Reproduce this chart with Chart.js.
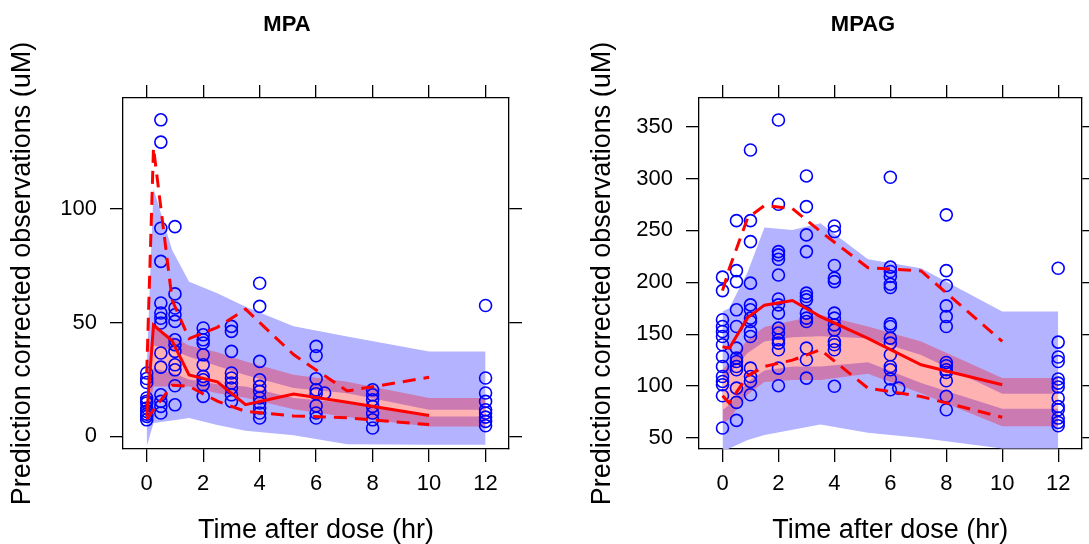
<!DOCTYPE html>
<html>
<head>
<meta charset="utf-8">
<script src="https://cdn.jsdelivr.net/npm/chart.js@4.4.1/dist/chart.umd.min.js"></script>
<style>
  html, body { margin: 0; padding: 0; background: #fff; }
  #wrap { position: relative; width: 1089px; height: 544px; overflow: hidden; background: #fff; }
  canvas { position: absolute; top: 0; }
</style>
</head>
<body>
<div id="wrap">
  <canvas id="mpa" width="580" height="544" style="left:0px"></canvas>
  <canvas id="mpag" width="509" height="544" style="left:580px"></canvas>
</div>
<script>
// ---- tick values ----
const timeTicks = [0, 2, 4, 6, 8, 10, 12];
const mpaTicks = [0, 50, 100];
const mpagTicks = [50, 100, 150, 200, 250, 300, 350];

// ---- MPA observations (prediction corrected, uM) ----
const mpaObsTime = [
  0,0,0,0,0,0,0,0,0,0,0,
  0.5,0.5,0.5,0.5,0.5,0.5,0.5,0.5,0.5,0.5,0.5,0.5,0.5,0.5,
  1,1,1,1,1,1,1,1,1,1,1,1,
  2,2,2,2,2,2,2,2,2,2,
  3,3,3,3,3,3,3,3,3,
  4,4,4,4,4,4,4,4,4,4,4,
  6,6,6,6,6,6,6,6,6.3,
  8,8,8,8,8,8,8,
  12,12,12,12,12,12,12,12,12
];
const mpaObsConc = [
  27.9,25.5,23.7,16.9,15.5,14.7,12.5,11,9.8,8.8,7.3,
  139.3,129.5,91.6,77,58.7,54.3,52,49.9,36.7,30.5,18.3,15.4,13.2,10.3,
  92.3,62.7,56.5,53.5,50.6,42.5,40.3,37.4,31.5,29.3,22.3,13.9,
  47.7,44.7,42.5,41.1,35.9,31.5,26.4,24.9,22.7,17.6,
  48.4,46.2,37.4,27.9,25.7,23.5,21.3,18.3,15.4,
  67.4,57.2,33,24.9,22,19.8,16.9,14.7,12.5,10.3,8.1,
  39.6,35.5,25.4,20.5,18.8,13.5,10.3,8.1,19.1,
  20.5,18.3,16.1,13.2,10.3,7.3,3.7,
  57.6,25.7,19.1,15.4,11.7,10.3,8.5,6.6,4.7
];

// ---- MPAG observations (prediction corrected, uM) ----
const mpagObsTime = [
  0,0,0,0,0,0,0,0,0,0,0,0,0,0,
  0.5,0.5,0.5,0.5,0.5,0.5,0.5,0.5,0.5,0.5,0.5,0.5,0.5,
  1,1,1,1,1,1,1,1,1,1,1,1,1,1,
  2,2,2,2,2,2,2,2,2,2,2,2,2,2,2,2,
  3,3,3,3,3,3,3,3,3,3,3,3,3,
  4,4,4,4,4,4,4,4,4,4,4,4,4,
  6,6,6,6,6,6,6,6,6,6,6,6,6,6,6,6.3,
  8,8,8,8,8,8,8,8,8,8,8,8,8,
  12,12,12,12,12,12,12,12,12,12,12,12,12
];
const mpagObsConc = [
  205,192,163.9,157.4,152.6,147.8,139.8,128.5,118.9,109.3,104.5,101.3,90.7,59.6,
  259.4,211.3,200.7,173.5,157.4,136.6,127,123.7,118.9,115.7,98.1,84.3,67,
  327.5,259.4,239.2,199.2,178.3,173.5,165.5,162.3,152.6,147.8,117.3,109.3,104.5,91.7,
  356.4,275.2,229.6,226.4,222.2,207,183.9,178.3,170.3,155.9,151.1,144.6,141.4,135,117.3,100.4,
  302.5,272.9,245.7,229.6,189.6,186.3,183.1,170.3,165.5,162.3,136.6,125.4,107.7,
  254.3,248.9,216.2,204,200.7,170.3,165.5,159,154.2,143,139.8,135,99.8,
  301.2,214.6,210.4,205.6,198.2,195,160,157.4,146.2,141.4,130.2,118.9,115.7,106.8,96.5,98.1,
  265,211.3,196.9,177.3,167,157.4,122.8,119.6,115.7,113.1,105.2,90.1,77.2,
  213.6,142.4,128,123.7,106.8,102.9,99.1,88.5,80.4,77.2,69.2,65,61.8
];

// ---- time bins (bin centres) ----
const binTime = [0, 0.24, 0.9, 1.5, 2.5, 3.5, 5.2, 7.1, 10];
const bandTime = [0, 0.24, 0.9, 1.5, 2.5, 3.5, 5.2, 7.1, 10, 12];

// ---- MPA observed percentiles ----
const mpaObsMedian = [8.8, 49, 42, 27, 24, 14, 18.6, 15, 9.2];
const mpaObsP95 = [28, 127, 60, 43, 48, 56, 36, 20, 26];
const mpaObsP05 = [7.5, 11.7, 22.5, 22, 15.5, 11, 9, 8.2, 5.2];

// ---- MPA simulated confidence bands ----
const mpaOuterHi = [30, 109, 82, 68, 63, 57, 48.5, 44, 37.4, 37.4];
const mpaOuterLo = [-4.4, 5.9, 7, 8.1, 5, 2.5, 0.5, -3.5, -3.7, -3.7];
const mpaMedCiHi = [12, 48, 44, 40, 37, 33, 27.1, 24, 16.9, 16.9];
const mpaMidHi = [10, 40, 38, 35, 31, 27, 21.3, 19, 11.7, 11.7];
const mpaMidLo = [8, 30, 28, 25, 23, 22, 16.9, 14.7, 8.8, 8.8];
const mpaMedCiLo = [6, 22, 22, 22, 19, 17, 12, 8.5, 4.4, 4.4];

// ---- MPAG observed percentiles ----
const mpagObsMedian = [138, 136.5, 166, 178, 182.5, 167, 146, 120.5, 101.3];
const mpagObsP95 = [192, 213, 262, 274, 271, 249, 214, 211, 143];
const mpagObsP05 = [90.7, 83.7, 110, 119, 125, 135, 98, 90, 70];

// ---- MPAG simulated confidence bands ----
const mpagOuterHi = [172, 175, 210, 252.8, 250.5, 256.9, 222.3, 213.6, 171.9, 171.9];
const mpagOuterLo = [35, 40, 48, 53, 58, 63, 55, 50, 40, 40];
const mpagMedCiHi = [116, 122, 145, 157, 163, 168.7, 157.4, 143, 107.7, 107.7];
const mpagMidHi = [106, 112, 132, 143, 147, 148, 146, 130, 92.6, 92.6];
const mpagMidLo = [77, 82, 104, 115, 119, 119, 123, 103, 78.2, 78.2];
const mpagMedCiLo = [64, 68, 92, 104, 106, 106, 112, 93, 61.2, 61.2];

// ---- drawing ----
const FONT = '"Liberation Sans", Arial, Helvetica, sans-serif';
const BLUE_BAND = 'rgb(179,179,255)';
const MAUVE_BAND = 'rgb(204,122,178)';
const PINK_BAND = 'rgb(255,178,178)';
const INK = '#000000';

const pts = (xs, ys) => xs.map((x, i) => ({ x: x, y: ys[i] }));

function band(xs, hi, lo, color, ord) {
  return [
    { data: pts(xs, hi), borderColor: 'transparent', borderWidth: 0, pointRadius: 0,
      fill: '+1', backgroundColor: color, order: ord },
    { data: pts(xs, lo), borderColor: 'transparent', borderWidth: 0, pointRadius: 0,
      fill: false, order: ord }
  ];
}

function redLine(xs, ys, dashed) {
  return { data: pts(xs, ys), borderColor: '#ff0000', borderWidth: 3, pointRadius: 0,
           fill: false, borderDash: dashed ? [13, 8] : [], borderCapStyle: 'butt', order: 1 };
}

function fixedTicks(vals) {
  return scale => { scale.ticks = vals.map(v => ({ value: v })); };
}

// Title drawn above each panel
const panelTitle = {
  id: 'panelTitle',
  afterDraw(chart, args, opts) {
    const ctx = chart.ctx;
    ctx.save();
    ctx.font = 'bold 22px ' + FONT;
    ctx.fillStyle = INK;
    ctx.textAlign = 'center';
    ctx.textBaseline = 'middle';
    ctx.fillText(opts.text, opts.x, opts.y);
    ctx.restore();
  }
};

function axisLook(extra) {
  return Object.assign({
    type: 'linear',
    grid: { drawOnChartArea: false, drawTicks: true, tickLength: 13, color: INK, lineWidth: 1.3 },
    border: { display: true, color: INK, width: 1.3 }
  }, extra);
}

function makePanel(id, cfg) {
  const datasets = [].concat(
    band(bandTime, cfg.outerHi, cfg.outerLo, BLUE_BAND, 30),
    band(bandTime, cfg.ciHi, cfg.ciLo, MAUVE_BAND, 20),
    band(bandTime, cfg.midHi, cfg.midLo, PINK_BAND, 10),
    [{ data: pts(cfg.obsT, cfg.obsY), showLine: false, pointStyle: 'circle', pointRadius: 6,
       pointBorderWidth: 1.6, pointBorderColor: '#0000ff', pointBackgroundColor: 'transparent',
       order: 5 }],
    [redLine(binTime, cfg.median, false), redLine(binTime, cfg.p95, true), redLine(binTime, cfg.p05, true)]
  );

  new Chart(document.getElementById(id), {
    type: 'line',
    data: { datasets: datasets },
    plugins: [panelTitle],
    options: {
      responsive: false,
      animation: false,
      devicePixelRatio: 1,
      layout: { padding: 0 },
      plugins: {
        legend: { display: false },
        tooltip: { enabled: false },
        panelTitle: { text: cfg.title, x: cfg.titleX, y: 25 }
      },
      scales: {
        x: axisLook({
          position: 'bottom', min: -0.84, max: 12.83,
          afterBuildTicks: fixedTicks(timeTicks),
          afterFit: s => { s.height = 95; },
          ticks: { color: INK, font: { family: FONT, size: 22 }, padding: 9, maxRotation: 0, autoSkip: false },
          title: { display: true, text: 'Time after dose (hr)', color: INK,
                   font: { family: FONT, size: 27, lineHeight: 1.1 }, padding: { top: 0, bottom: -1 } }
        }),
        xTop: axisLook({
          position: 'top', min: -0.84, max: 12.83,
          afterBuildTicks: fixedTicks(timeTicks),
          afterFit: s => { s.height = 98; },
          ticks: { display: false }
        }),
        y: axisLook({
          position: 'left', min: cfg.yMin, max: cfg.yMax,
          afterBuildTicks: fixedTicks(cfg.yTicks),
          afterFit: s => { s.width = cfg.leftW; },
          ticks: { color: INK, font: { family: FONT, size: 22 }, padding: 13 },
          title: { display: true, text: 'Prediction corrected observations (uM)', color: INK,
                   font: { family: FONT, size: 27, lineHeight: 1.1 }, padding: { top: 8, bottom: 0 } }
        }),
        yRight: axisLook({
          position: 'right', min: cfg.yMin, max: cfg.yMax,
          afterBuildTicks: fixedTicks(cfg.yTicks),
          afterFit: s => { s.width = cfg.rightW; },
          ticks: { display: false }
        })
      }
    }
  });
}

makePanel('mpa', {
  title: 'MPA', titleX: 287,
  yMin: -5.54, yMax: 148.9, yTicks: mpaTicks, leftW: 123, rightW: 71,
  obsT: mpaObsTime, obsY: mpaObsConc,
  median: mpaObsMedian, p95: mpaObsP95, p05: mpaObsP05,
  outerHi: mpaOuterHi, outerLo: mpaOuterLo,
  ciHi: mpaMedCiHi, ciLo: mpaMedCiLo,
  midHi: mpaMidHi, midLo: mpaMidLo
});

makePanel('mpag', {
  title: 'MPAG', titleX: 283,
  yMin: 39.4, yMax: 377.6, yTicks: mpagTicks, leftW: 119, rightW: 4,
  obsT: mpagObsTime, obsY: mpagObsConc,
  median: mpagObsMedian, p95: mpagObsP95, p05: mpagObsP05,
  outerHi: mpagOuterHi, outerLo: mpagOuterLo,
  ciHi: mpagMedCiHi, ciLo: mpagMedCiLo,
  midHi: mpagMidHi, midLo: mpagMidLo
});
</script>
</body>
</html>
